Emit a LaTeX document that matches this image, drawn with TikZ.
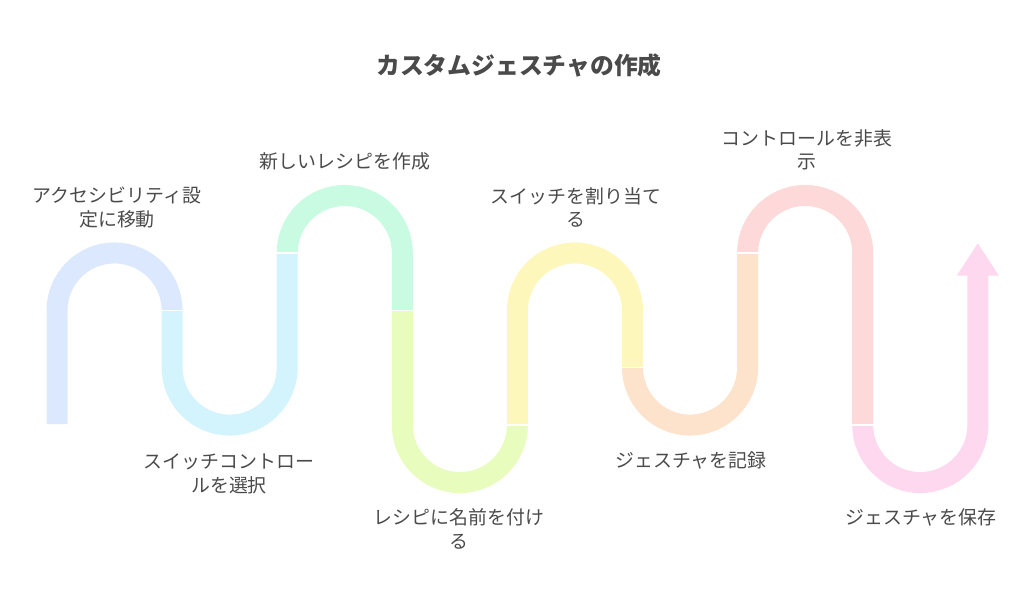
\documentclass[tikz,border=0pt]{standalone}
\usepackage{fontspec}
\setmainfont{Noto Sans CJK JP}
\usepackage{tikz}
\definecolor{bandA}{HTML}{DCE8FD}
\definecolor{bandB}{HTML}{D3F3FD}
\definecolor{bandC}{HTML}{C9FBE3}
\definecolor{bandD}{HTML}{E8FDBD}
\definecolor{bandE}{HTML}{FEF7BC}
\definecolor{bandF}{HTML}{FEE3CC}
\definecolor{bandG}{HTML}{FDD9D9}
\definecolor{bandH}{HTML}{FDD8EF}
\definecolor{labelgray}{HTML}{4A4A4A}
\begin{document}
\begin{tikzpicture}[x=1pt,y=-1pt,
  band/.style={line width=21pt, line cap=butt},
  lbl/.style={text=labelgray, align=center, font=\fontsize{18.9}{23.5}\selectfont}]
  \useasboundingbox (0,0) rectangle (1024,598);

  \node[text=labelgray, font=\fontsize{23.8}{28}\bfseries\selectfont] (title) at (519,65) {カスタムジェスチャの作成};

  % the winding road, one piece per step
  \draw[band, bandA] (57,424) -- (57,310.5) arc[start angle=180, end angle=360, radius=57.55];
  \draw[band, bandB] (172.1,310.5) -- (172.1,367.5) arc[start angle=180, end angle=0, radius=57.55] -- (287.2,253);
  \draw[band, bandC] (287.2,253) arc[start angle=180, end angle=360, radius=57.55] -- (402.3,310.5);
  \draw[band, bandD] (402.3,310.5) -- (402.3,425) arc[start angle=180, end angle=0, radius=57.55];
  \draw[band, bandE] (517.4,425) -- (517.4,310.5) arc[start angle=180, end angle=360, radius=57.55] -- (632.5,367.5);
  \draw[band, bandF] (632.5,367.5) arc[start angle=180, end angle=0, radius=57.55] -- (747.6,253);
  \draw[band, bandG] (747.6,253) arc[start angle=180, end angle=360, radius=57.55] -- (862.7,425);
  \draw[band, bandH] (862.7,425) arc[start angle=180, end angle=0, radius=57.55] -- (977.8,275);
  \fill[bandH] (956.8,275.5) -- (998.8,275.5) -- (977.8,243.3) -- cycle;

  % thin white joints
  \foreach \x/\y in {172.1/310.5, 287.2/253, 402.3/310.5, 517.4/425, 632.5/367.5, 747.6/253, 862.7/425}
    \draw[white, line width=1.5pt] (\x-11,\y) -- (\x+11,\y);

  \node[lbl] (access) at (117,207.5) {アクセシビリティ設\\定に移動};
  \node[lbl] (switchctl) at (229,474) {スイッチコントロー\\ルを選択};
  \node[lbl] (recipe) at (345,161) {新しいレシピを作成};
  \node[lbl] (naming) at (459,529) {レシピに名前を付け\\る};
  \node[lbl] (assign) at (576,207.5) {スイッチを割り当て\\る};
  \node[lbl] (record) at (691,460) {ジェスチャを記録};
  \node[lbl] (hide) at (807,150) {コントロールを非表\\示};
  \node[lbl] (save) at (921,517) {ジェスチャを保存};
\end{tikzpicture}
\end{document}
